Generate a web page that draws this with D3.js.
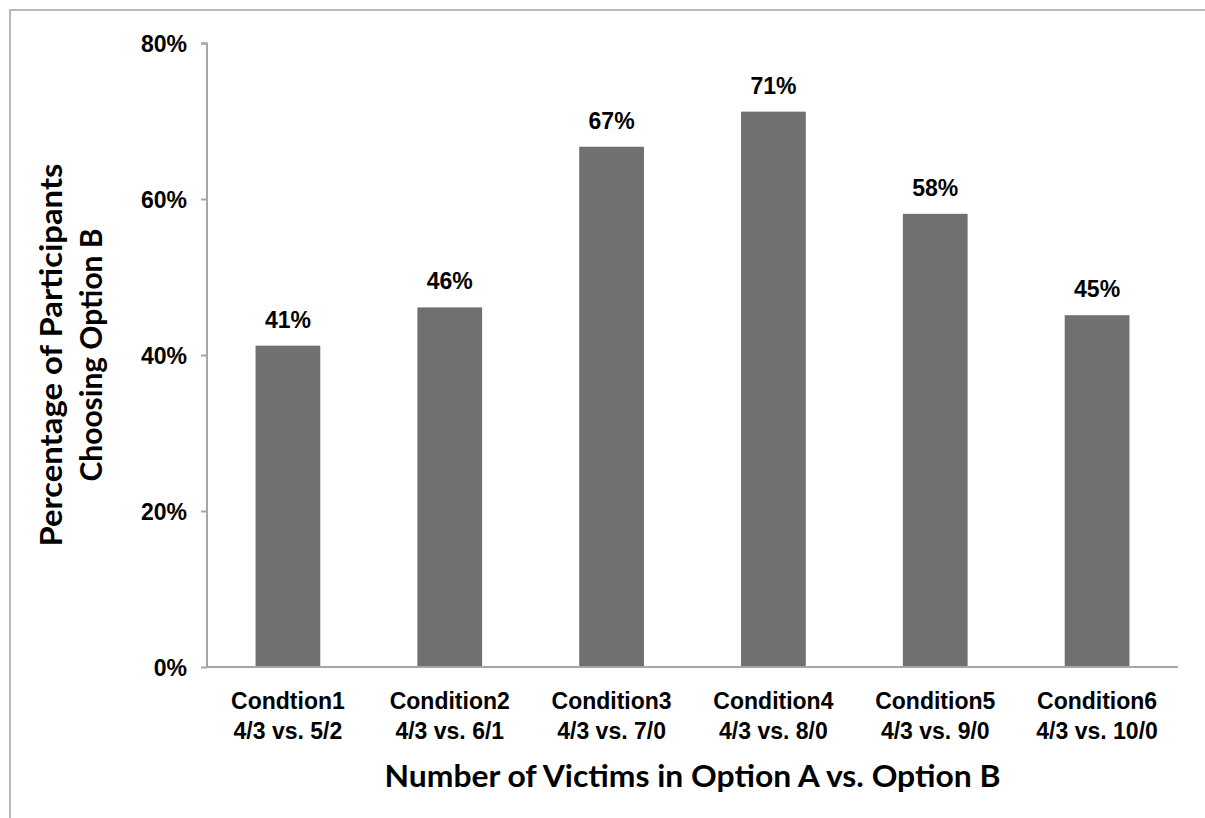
<!DOCTYPE html>
<html>
<head>
<meta charset="utf-8">
<script src="https://cdn.jsdelivr.net/npm/d3@7"></script>
<style>
  body { margin: 0; background: #fff; }
  .tick text, .vlabel, .cat { font-family: "Liberation Sans", Arial, sans-serif; font-weight: bold; fill: #000; }
  .title { font-family: Lato, "Open Sans", sans-serif; font-weight: bold; fill: #000; }
</style>
</head>
<body>
<div id="chart"></div>
<script>
// data
var conditions = ["Condtion1", "Condition2", "Condition3", "Condition4", "Condition5", "Condition6"];
var comparisons = ["4/3 vs. 5/2", "4/3 vs. 6/1", "4/3 vs. 7/0", "4/3 vs. 8/0", "4/3 vs. 9/0", "4/3 vs. 10/0"];
var percentB = [41.2, 46.1, 66.7, 71.2, 58.1, 45.1];
var yTicks = [0, 20, 40, 60, 80];

var width = 1205, height = 818;
var margin = {top: 43, right: 27, bottom: 151, left: 207};
var w = width - margin.left - margin.right;
var h = height - margin.top - margin.bottom;

var svg = d3.select("#chart").append("svg").attr("width", width).attr("height", height);

// frame round the chart
svg.append("rect")
  .attr("x", 10).attr("y", 10)
  .attr("width", width + 20).attr("height", height + 20)
  .attr("fill", "none").attr("stroke", "#b8b8b8").attr("stroke-width", 2);

var g = svg.append("g").attr("transform", "translate(" + margin.left + "," + margin.top + ")");

var x = d3.scaleBand().domain(conditions).range([0, w]).paddingInner(0.6).paddingOuter(0.3);
var y = d3.scaleLinear().domain([0, 80]).range([h, 0]);

// y axis
var yAxis = d3.axisLeft(y).tickValues(yTicks).tickSize(6).tickPadding(14).tickFormat(function(d) { return d + "%"; });
var ya = g.append("g").attr("class", "y axis").call(yAxis);
ya.select(".domain").attr("stroke", "#a6a6a6").attr("stroke-width", 2).attr("d", "M-6,0.5H0V" + h);
ya.selectAll(".tick line").attr("stroke", "#a6a6a6").attr("stroke-width", 2);
ya.selectAll(".tick text").style("font-size", "23px").attr("dy", "0.35em");

// bars
g.selectAll("rect.bar")
  .data(percentB).enter().append("rect")
  .attr("class", "bar")
  .attr("x", function(d, i) { return x(conditions[i]); })
  .attr("width", x.bandwidth())
  .attr("y", function(d) { return y(d); })
  .attr("height", function(d) { return h - y(d); })
  .attr("fill", "#707070");

// value labels
g.selectAll("text.vlabel")
  .data(percentB).enter().append("text")
  .attr("class", "vlabel")
  .attr("x", function(d, i) { return x(conditions[i]) + x.bandwidth() / 2; })
  .attr("y", function(d) { return y(d) - 18; })
  .attr("text-anchor", "middle")
  .style("font-size", "23px")
  .text(function(d) { return Math.round(d) + "%"; });

// x axis line
g.append("line")
  .attr("x1", 0).attr("x2", w).attr("y1", h).attr("y2", h)
  .attr("stroke", "#a6a6a6").attr("stroke-width", 2);

// category labels, two lines each
var cats = g.selectAll("text.cat")
  .data(conditions).enter().append("text")
  .attr("class", "cat")
  .attr("text-anchor", "middle")
  .style("font-size", "23px")
  .attr("transform", function(d) { return "translate(" + (x(d) + x.bandwidth() / 2) + "," + (h + 42) + ")"; });
cats.append("tspan").attr("x", 0).attr("y", 0).text(function(d) { return d; });
cats.append("tspan").attr("x", 0).attr("y", 30).text(function(d, i) { return comparisons[i]; });

// axis titles
g.append("text")
  .attr("class", "title")
  .attr("x", w / 2).attr("y", h + 120)
  .attr("text-anchor", "middle")
  .style("font-size", "30px")
  .attr("textLength", 616).attr("lengthAdjust", "spacingAndGlyphs")
  .text("Number of Victims in Option A vs. Option B");

var yt = g.append("text")
  .attr("class", "title")
  .attr("text-anchor", "middle")
  .style("font-size", "30px")
  .attr("transform", "translate(" + (-145) + "," + (h / 2) + ") rotate(-90)");
yt.append("tspan").attr("x", 0).attr("y", 0)
  .attr("textLength", 383).attr("lengthAdjust", "spacingAndGlyphs")
  .text("Percentage of Participants");
yt.append("tspan").attr("x", 0).attr("y", 40)
  .attr("textLength", 253).attr("lengthAdjust", "spacingAndGlyphs")
  .text("Choosing Option B");
</script>
</body>
</html>
